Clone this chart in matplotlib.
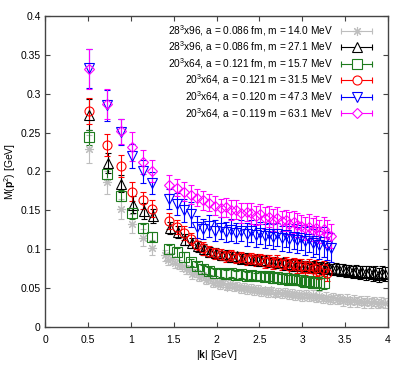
import matplotlib
matplotlib.use("Agg")
import matplotlib.pyplot as plt
from matplotlib.lines import Line2D
from matplotlib.legend_handler import HandlerLine2D, HandlerTuple
from matplotlib.ticker import MultipleLocator, FormatStrFormatter

plt.rcParams['font.family'] = ['Liberation Sans', 'DejaVu Sans']
plt.rcParams['mathtext.fontset'] = 'custom'
plt.rcParams['mathtext.rm'] = 'Liberation Sans'
plt.rcParams['mathtext.bf'] = 'Liberation Sans:bold'

# momentum values for the 20^3 x 64 lattices
k20 = [0.51, 0.72, 0.89, 1.02, 1.14, 1.25,
       1.45, 1.54, 1.62, 1.70, 1.77, 1.84, 1.91, 1.98, 2.05, 2.11,
       2.17, 2.23, 2.29, 2.35, 2.40, 2.46, 2.51, 2.56, 2.61, 2.66,
       2.71, 2.76, 2.81, 2.85, 2.90, 2.94, 2.99, 3.03, 3.08, 3.12,
       3.16, 3.20, 3.25, 3.29, 3.34]

# momentum values for the 28^3 x 96 lattice, m = 27.1 MeV
k28_black = [0.51, 0.73, 0.89, 1.03, 1.15, 1.26,
             1.46, 1.55, 1.63, 1.71, 1.78, 1.85, 1.92, 1.99, 2.06, 2.12,
             2.18, 2.24, 2.30, 2.36, 2.42, 2.47, 2.52, 2.58, 2.63, 2.68,
             2.73, 2.78, 2.82, 2.87, 2.92, 2.96, 3.01, 3.05, 3.10, 3.14,
             3.18, 3.22, 3.27, 3.31, 3.35, 3.39, 3.43, 3.47, 3.51, 3.55,
             3.59, 3.63, 3.67, 3.70, 3.74, 3.78, 3.82, 3.85, 3.89, 3.93,
             3.96]

# momentum values for the 28^3 x 96 lattice, m = 14.0 MeV
k28_gray = [0.51, 0.72, 0.89, 1.02, 1.14, 1.25,
            1.40, 1.44, 1.48, 1.52, 1.56, 1.60, 1.64, 1.68, 1.72, 1.76,
            1.80, 1.84, 1.88, 1.92, 1.96, 2.00, 2.04, 2.08, 2.12, 2.16,
            2.20, 2.24, 2.28, 2.32, 2.36, 2.40, 2.44, 2.48, 2.52, 2.56,
            2.60, 2.64, 2.68, 2.72, 2.76, 2.80, 2.84, 2.88, 2.92, 2.96,
            3.00, 3.04, 3.08, 3.12, 3.16, 3.20, 3.24, 3.28, 3.32, 3.36,
            3.40, 3.44, 3.48, 3.52, 3.56, 3.60, 3.64, 3.68, 3.72, 3.76,
            3.80, 3.84, 3.88, 3.92, 3.96]

m_gray = [0.229, 0.186, 0.152, 0.133, 0.115, 0.102,
          0.092, 0.086, 0.088, 0.082, 0.080, 0.078, 0.074, 0.073, 0.068, 0.069,
          0.064, 0.066, 0.060, 0.062, 0.057, 0.058, 0.054, 0.056, 0.052, 0.055,
          0.051, 0.053, 0.049, 0.052, 0.048, 0.050, 0.046, 0.049, 0.045, 0.047,
          0.044, 0.047, 0.043, 0.045, 0.042, 0.045, 0.041, 0.044, 0.040, 0.042,
          0.039, 0.042, 0.038, 0.041, 0.037, 0.040, 0.036, 0.039, 0.035, 0.038,
          0.035, 0.037, 0.033, 0.036, 0.032, 0.035, 0.032, 0.034, 0.031, 0.034,
          0.031, 0.033, 0.030, 0.032, 0.031]
e_gray = [0.018, 0.015, 0.013, 0.012, 0.011, 0.010,
          0.007, 0.006, 0.007, 0.006, 0.006, 0.006, 0.006, 0.005, 0.006, 0.005,
          0.005, 0.005, 0.005, 0.005, 0.005, 0.005, 0.005, 0.005, 0.005, 0.005,
          0.005, 0.005, 0.005, 0.005, 0.005, 0.005, 0.005, 0.005, 0.005, 0.005,
          0.005, 0.005, 0.005, 0.005, 0.005, 0.005, 0.005, 0.005, 0.005, 0.005,
          0.005, 0.005, 0.005, 0.006, 0.005, 0.006, 0.005, 0.006, 0.005, 0.006,
          0.006, 0.006, 0.006, 0.006, 0.006, 0.006, 0.006, 0.006, 0.006, 0.006,
          0.006, 0.006, 0.006, 0.006, 0.006]

m_black = [0.273, 0.211, 0.184, 0.157, 0.149, 0.143,
           0.127, 0.122, 0.112, 0.108, 0.104, 0.100, 0.097, 0.095, 0.092, 0.093,
           0.090, 0.091, 0.088, 0.089, 0.086, 0.087, 0.085, 0.086, 0.083, 0.084,
           0.082, 0.083, 0.080, 0.081, 0.079, 0.080, 0.078, 0.079, 0.077, 0.078,
           0.076, 0.077, 0.075, 0.076, 0.074, 0.075, 0.073, 0.074, 0.072, 0.073,
           0.071, 0.072, 0.070, 0.071, 0.069, 0.071, 0.068, 0.070, 0.067, 0.069,
           0.068]
e_black = [0.020, 0.013, 0.011, 0.011, 0.010, 0.009,
           0.008, 0.008, 0.007, 0.007, 0.007, 0.007, 0.006, 0.006, 0.006, 0.006,
           0.006, 0.006, 0.006, 0.006, 0.006, 0.006, 0.006, 0.006, 0.006, 0.006,
           0.006, 0.006, 0.006, 0.006, 0.007, 0.006, 0.007, 0.006, 0.007, 0.007,
           0.007, 0.007, 0.007, 0.007, 0.007, 0.007, 0.008, 0.007, 0.008, 0.007,
           0.008, 0.008, 0.008, 0.008, 0.009, 0.008, 0.009, 0.008, 0.009, 0.009,
           0.009]

m_green = [0.244, 0.197, 0.169, 0.146, 0.127, 0.116,
           0.100, 0.096, 0.090, 0.083, 0.078, 0.075, 0.072, 0.070, 0.069, 0.068,
           0.069, 0.067, 0.068, 0.066, 0.067, 0.065, 0.066, 0.064, 0.065, 0.063,
           0.064, 0.062, 0.063, 0.061, 0.062, 0.060, 0.060, 0.058, 0.059, 0.057,
           0.058, 0.056, 0.057]
e_green = [0.010, 0.008, 0.007, 0.007, 0.006, 0.006,
           0.006, 0.006, 0.006, 0.005, 0.005, 0.005, 0.005, 0.005, 0.005, 0.005,
           0.005, 0.005, 0.005, 0.005, 0.005, 0.005, 0.005, 0.005, 0.006, 0.006,
           0.006, 0.006, 0.006, 0.006, 0.006, 0.006, 0.007, 0.007, 0.007, 0.007,
           0.007, 0.008, 0.008]

m_red = [0.278, 0.234, 0.207, 0.174, 0.163, 0.152,
         0.136, 0.128, 0.121, 0.113, 0.106, 0.101, 0.097, 0.095, 0.093, 0.091,
         0.092, 0.089, 0.090, 0.087, 0.088, 0.086, 0.087, 0.084, 0.085, 0.082,
         0.084, 0.081, 0.082, 0.079, 0.081, 0.078, 0.079, 0.076, 0.078, 0.074,
         0.076, 0.072, 0.074, 0.070]
e_red = [0.017, 0.014, 0.014, 0.012, 0.011, 0.011,
         0.010, 0.009, 0.009, 0.008, 0.008, 0.008, 0.007, 0.007, 0.007, 0.007,
         0.007, 0.007, 0.007, 0.007, 0.007, 0.008, 0.007, 0.008, 0.007, 0.008,
         0.008, 0.008, 0.008, 0.009, 0.008, 0.009, 0.009, 0.009, 0.009, 0.010,
         0.010, 0.010, 0.011, 0.011]

m_blue = [0.333, 0.285, 0.251, 0.220, 0.200, 0.185,
          0.165, 0.158, 0.150, 0.145, 0.129, 0.126, 0.130, 0.124, 0.127, 0.122,
          0.125, 0.121, 0.124, 0.119, 0.123, 0.118, 0.121, 0.117, 0.120, 0.116,
          0.119, 0.114, 0.118, 0.113, 0.116, 0.112, 0.115, 0.110, 0.113, 0.108,
          0.111, 0.106, 0.109, 0.104, 0.102]
e_blue = [0.025, 0.020, 0.017, 0.016, 0.015, 0.014,
          0.013, 0.014, 0.015, 0.016, 0.014, 0.013, 0.014, 0.013, 0.014, 0.013,
          0.014, 0.013, 0.014, 0.015, 0.014, 0.015, 0.014, 0.015, 0.014, 0.016,
          0.015, 0.016, 0.015, 0.017, 0.016, 0.017, 0.016, 0.018, 0.017, 0.018,
          0.017, 0.018, 0.019, 0.018, 0.019]

m_magenta = [0.332, 0.287, 0.252, 0.232, 0.212, 0.201,
             0.183, 0.179, 0.174, 0.170, 0.166, 0.163, 0.160, 0.156, 0.153, 0.154,
             0.150, 0.151, 0.147, 0.148, 0.146, 0.143, 0.145, 0.140, 0.142, 0.138,
             0.140, 0.136, 0.137, 0.133, 0.135, 0.131, 0.130, 0.127, 0.129, 0.125,
             0.127, 0.123, 0.126, 0.120, 0.117]
e_magenta = [0.026, 0.019, 0.016, 0.019, 0.015, 0.014,
             0.012, 0.011, 0.012, 0.012, 0.011, 0.012, 0.011, 0.012, 0.011, 0.012,
             0.013, 0.012, 0.013, 0.012, 0.013, 0.012, 0.013, 0.014, 0.013, 0.014,
             0.014, 0.013, 0.014, 0.015, 0.014, 0.015, 0.014, 0.015, 0.016, 0.015,
             0.016, 0.015, 0.016, 0.017, 0.016]

labels = ["28$^3$x96, a = 0.086 fm, m = 14.0 MeV",
          "28$^3$x96, a = 0.086 fm, m = 27.1 MeV",
          "20$^3$x64, a = 0.121 fm, m = 15.7 MeV",
          "20$^3$x64, a = 0.121 m = 31.5 MeV",
          "20$^3$x64, a = 0.120 m = 47.3 MeV",
          "20$^3$x64, a = 0.119 m = 63.1 MeV"]

series = [
    (k28_gray, m_gray, e_gray, '#bebebe', (8, 2, 0)),
    (k28_black, m_black, e_black, 'black', '^'),
    (k20[:len(m_green)], m_green, e_green, '#1e7b1e', 's'),
    (k20[:len(m_red)], m_red, e_red, '#ff0000', 'o'),
    (k20, m_blue, e_blue, '#0000ff', 'v'),
    (k20, m_magenta, e_magenta, '#ff00ff', 'D'),
]

fig = plt.figure(figsize=(4.07, 3.66), dpi=100)
ax = fig.add_axes([0.1106, 0.1066, 0.8427, 0.8497])

handles = []
cap_lines = []
for (x, y, e, c, mk), lab in zip(series, labels):
    ms = 5.5 if mk == 'D' else 6.5
    ax.errorbar(x, y, yerr=e, fmt='', marker=mk, linestyle='none', color=c,
                mfc='none', mec=c, ms=ms, mew=0.8, elinewidth=0.8,
                capsize=2, capthick=0.8)
    main = Line2D([], [], color=c, marker=mk, mfc='white', mec=c, ms=ms,
                  mew=0.8, lw=0.8)
    caps = Line2D([], [], color=c, marker='|', ms=4, mew=0.8, lw=0)
    cap_lines.append(caps)
    handles.append((main, caps))

hmap = {tuple: HandlerTuple(ndivide=1, pad=0)}
for cl in cap_lines:
    hmap[cl] = HandlerLine2D(numpoints=2, marker_pad=0)

ax.legend(handles, labels, handler_map=hmap, loc='upper right',
          frameon=False, markerfirst=False, alignment='right', fontsize=7.3,
          handlelength=3.1, handletextpad=0.8, labelspacing=0.17,
          borderaxespad=0.3, bbox_to_anchor=(0.975, 1.0))

ax.set_xlim(0, 4)
ax.set_ylim(0, 0.4)
ax.xaxis.set_major_locator(MultipleLocator(0.5))
ax.yaxis.set_major_locator(MultipleLocator(0.05))
ax.xaxis.set_major_formatter(FormatStrFormatter('%g'))
ax.yaxis.set_major_formatter(FormatStrFormatter('%g'))
ax.tick_params(direction='in', top=True, right=True, length=3.5,
               width=0.8, labelsize=7.5, color='#444444')
ax.tick_params(axis='x', pad=6)
ax.tick_params(axis='y', pad=3)
for s in ax.spines.values():
    s.set_color('#444444')
    s.set_linewidth(1.0)

ax.set_xlabel(r"|$\mathbf{k}$| [GeV]", fontsize=7.5, labelpad=2)
ax.set_ylabel(r"M($\mathbf{p}^2$) [GeV]", fontsize=7.5)
ax.yaxis.set_label_coords(-0.08, 0.5)

fig.savefig("out.png", dpi=100)
